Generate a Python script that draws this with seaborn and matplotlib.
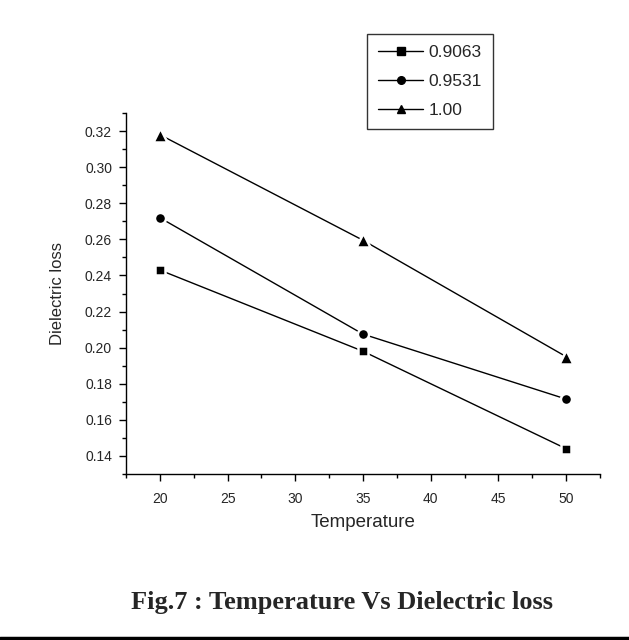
import matplotlib
matplotlib.use("Agg")
import matplotlib.pyplot as plt
import seaborn as sns
import pandas as pd
from matplotlib.ticker import MultipleLocator, FormatStrFormatter
from matplotlib.lines import Line2D

temperature = [20, 35, 50]
loss_09063 = [0.243, 0.198, 0.144]
loss_09531 = [0.272, 0.2075, 0.1715]
loss_100 = [0.318, 0.2595, 0.195]
series_names = ["0.9063", "0.9531", "1.00"]

df = pd.DataFrame({
    "Temperature": temperature * 3,
    "loss": loss_09063 + loss_09531 + loss_100,
    "series": [series_names[0]] * 3 + [series_names[1]] * 3 + [series_names[2]] * 3,
})

sns.set_style("white")
plt.rcParams["font.family"] = ["Liberation Sans", "DejaVu Sans"]

fig = plt.figure(figsize=(6.29, 6.40), dpi=100)
ax = fig.add_axes([0.2003, 0.2594, 0.7536, 0.564])

markers = {"0.9063": "s", "0.9531": "o", "1.00": "^"}
msizes = {"0.9063": 7.5, "0.9531": 8, "1.00": 10}
for name in series_names:
    sub = df[df["series"] == name]
    sns.lineplot(data=sub, x="Temperature", y="loss", color="black",
                 marker=markers[name], ax=ax, linewidth=1.0,
                 markersize=msizes[name], markeredgecolor="white",
                 markeredgewidth=1.8, legend=False)

ax.set_xlim(17.5, 52.5)
ax.set_ylim(0.13, 0.33)
ax.xaxis.set_major_locator(MultipleLocator(5))
ax.xaxis.set_minor_locator(MultipleLocator(2.5))
ax.yaxis.set_major_locator(MultipleLocator(0.02))
ax.yaxis.set_minor_locator(MultipleLocator(0.01))
ax.yaxis.set_major_formatter(FormatStrFormatter("%.2f"))
ax.xaxis.set_major_formatter(FormatStrFormatter("%d"))

for s in ["top", "right"]:
    ax.spines[s].set_visible(False)
for s in ["left", "bottom"]:
    ax.spines[s].set_color("black")
    ax.spines[s].set_linewidth(1.0)

ax.tick_params(which="major", direction="out", length=5, width=1, color="black",
               labelsize=10, left=True, bottom=True, pad=5)
ax.tick_params(axis="x", which="major", pad=8)
ax.tick_params(which="minor", direction="out", length=3, width=1, color="black",
               left=True, bottom=True)
ax.set_xlabel("Temperature", fontsize=13.5, labelpad=6)
ax.set_ylabel("Dielectric loss", fontsize=12, labelpad=14)

handles = [Line2D([], [], color="black", linewidth=1.0, marker=markers[n],
                  markersize=5.5, markerfacecolor="black", markeredgecolor="black")
           for n in series_names]
leg = fig.legend(handles, series_names, loc="upper left",
                 bbox_to_anchor=(367 / 629, 1 - 34 / 640), bbox_transform=fig.transFigure,
                 frameon=True, fancybox=False, fontsize=12.5, handlelength=2.6,
                 borderpad=0.65, labelspacing=0.78, handletextpad=0.3, borderaxespad=0)
leg.get_frame().set_edgecolor("black")
leg.get_frame().set_linewidth(1.0)

fig.text(342 / 629, 1 - 602 / 640, "Fig.7 : Temperature Vs Dielectric loss",
         ha="center", va="center", fontsize=19, fontweight="bold",
         family=["Liberation Serif", "DejaVu Serif"])
fig.add_artist(Line2D([0, 1], [1 - 638 / 640, 1 - 638 / 640], transform=fig.transFigure,
                      color="black", linewidth=2.5))

fig.savefig("out.png", dpi=100)
